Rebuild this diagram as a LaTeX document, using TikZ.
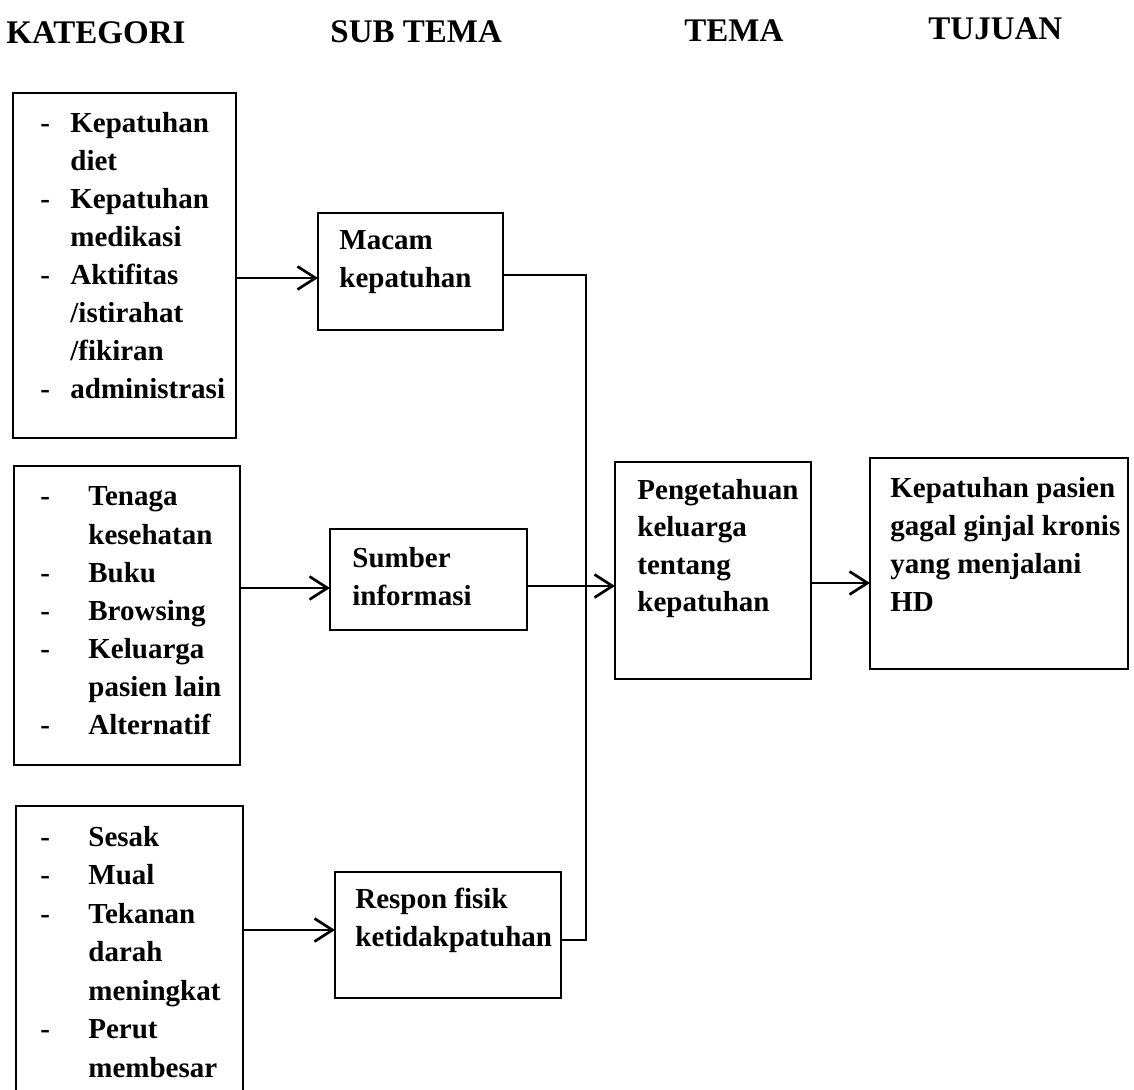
\documentclass[tikz,border=0pt]{standalone}
\usepackage{fontspec}
\setmainfont{Liberation Serif}
\usetikzlibrary{arrows.meta,fit}
\begin{document}
\begin{tikzpicture}[x=0.5pt,y=-0.5pt,
  box/.style={draw, line width=1.35pt, inner sep=0pt, outer sep=0pt},
  head/.style={anchor=base west, inner sep=0pt, font=\fontsize{16.5}{19}\selectfont\bfseries},
  txt/.style={anchor=base west, inner sep=0pt, font=\fontsize{14.5}{19}\selectfont\bfseries},
  conn/.style={line width=1.35pt},
  arr/.style={conn, -{Straight Barb[length=9pt,width=11.5pt]}}]
\useasboundingbox (0,0) rectangle (1134,1090);
\clip (0,0) rectangle (1134,1090);
\renewcommand{\arraystretch}{1}

% column headings
\node[head] (h1) at (6,44) {KATEGORI};
\node[head] (h2) at (330,43) {SUB TEMA};
\node[head] (h3) at (684,42) {TEMA};
\node[head] (h4) at (928,40) {TUJUAN};

% boxes
\node[box, fit={(13,93) (236,438)}] (k1) {};
\node[box, fit={(318,213) (503,330)}] (macam) {};
\node[box, fit={(14,466) (240,765)}] (k2) {};
\node[box, fit={(330,529) (527,630)}] (sumber) {};
\node[box, fit={(16,806) (243,1110)}] (k3) {};
\node[box, fit={(335,872) (561,998)}] (respon) {};
\node[box, fit={(615,462) (811,679)}] (peng) {};
\node[box, fit={(870,458) (1128,669)}] (tujuan) {};

% category lists
\node[txt] (t1) at (40,133) {\begin{tabular}[t]{@{}p{15pt}@{}l@{}}
- & Kepatuhan\\
  & diet\\
- & Kepatuhan\\
  & medikasi\\
- & Aktifitas\\
  & /istirahat\\
  & /fikiran\\
- & administrasi
\end{tabular}};
\node[txt] (t2) at (40,506) {\begin{tabular}[t]{@{}p{24pt}@{}l@{}}
- & Tenaga\\
  & kesehatan\\
- & Buku\\
- & Browsing\\
- & Keluarga\\
  & pasien lain\\
- & Alternatif
\end{tabular}};
\node[txt, font=\fontsize{14.5}{19.25}\selectfont\bfseries] (t3) at (40,846) {\begin{tabular}[t]{@{}p{24pt}@{}l@{}}
- & Sesak\\
- & Mual\\
- & Tekanan\\
  & darah\\
  & meningkat\\
- & Perut\\
  & membesar
\end{tabular}};

% sub themes, theme and goal
\node[txt] (t4) at (339,250) {\begin{tabular}[t]{@{}l@{}}Macam\\kepatuhan\end{tabular}};
\node[txt] (t5) at (352,567) {\begin{tabular}[t]{@{}l@{}}Sumber\\informasi\end{tabular}};
\node[txt] (t6) at (355,908) {\begin{tabular}[t]{@{}l@{}}Respon fisik\\ketidakpatuhan\end{tabular}};
\node[txt, font=\fontsize{14.5}{18.5}\selectfont\bfseries] (t7) at (637,500) {\begin{tabular}[t]{@{}l@{}}Pengetahuan\\keluarga\\tentang\\kepatuhan\end{tabular}};
\node[txt] (t8) at (890,497) {\begin{tabular}[t]{@{}l@{}}Kepatuhan pasien\\gagal ginjal kronis\\yang menjalani\\HD\end{tabular}};

% connectors
\coordinate (a1) at (0,278);
\coordinate (a2) at (0,588);
\coordinate (a3) at (0,930);
\coordinate (a4) at (0,583);
\coordinate (bus) at (586,586);
\coordinate (bt) at (0,275);
\coordinate (bb) at (0,940);
\draw[arr] (k1.east |- a1) -- (macam.west |- a1);
\draw[arr] (k2.east |- a2) -- (sumber.west |- a2);
\draw[arr] (k3.east |- a3) -- (respon.west |- a3);
\draw[conn] (macam.east |- bt) -| (bus) |- (respon.east |- bb);
\draw[arr] (sumber.east |- bus) -- (peng.west |- bus);
\draw[arr] (peng.east |- a4) -- (tujuan.west |- a4);
\end{tikzpicture}
\end{document}
